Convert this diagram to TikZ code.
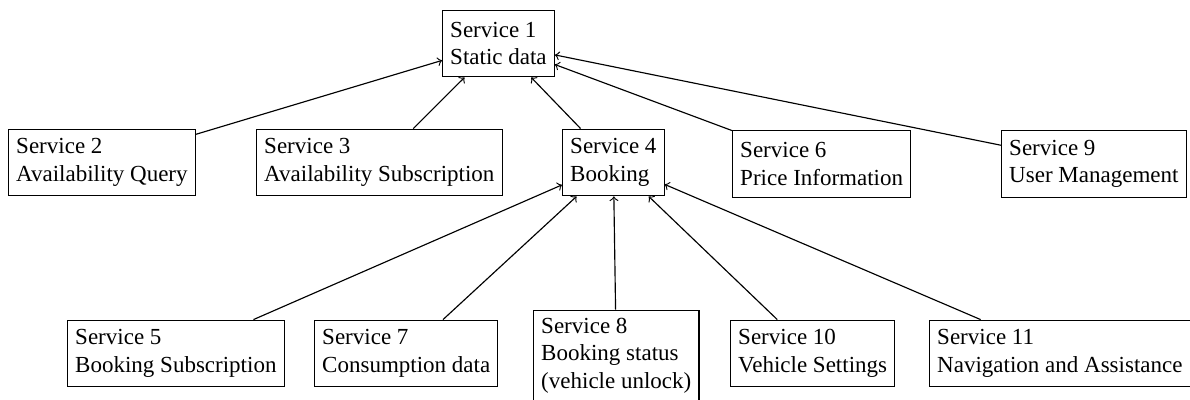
\documentclass[tikz,border=0pt]{standalone}
\usepackage{fontspec}
\setmainfont{Liberation Serif}

\begin{document}
\begin{tikzpicture}[->,auto,line width=0.5pt,x=0.4348pt,y=-0.4348pt]
\tikzstyle{service}=[rectangle,
  draw=black,fill=white,text=black,
  align=left,anchor=west,
  minimum height=29pt
]

\useasboundingbox (0,0) rectangle (1190,400);

\node[service] (S1)  at (442,43.5)  {Service 1\\Static data};

\node[service] (S2)  at (8,162.5)   {Service 2\\Availability Query};
\node[service] (S3)  at (256,162.5) {Service 3\\Availability Subscription};
\node[service] (S4)  at (562,162.5) {Service 4\\Booking};
\node[service] (S6)  at (732,164)   {Service 6\\Price Information};
\node[service] (S9)  at (1001,164)  {Service 9\\User Management};

\node[service] (S5)  at (67,353.5)  {Service 5\\Booking Subscription};
\node[service] (S7)  at (314,353.5) {Service 7\\Consumption data};
\node[service] (S8)  at (533,355.5) {Service 8\\Booking status\\(vehicle unlock)};
\node[service] (S10) at (730,353.5) {Service 10\\Vehicle Settings};
\node[service] (S11) at (929,353.5) {Service 11\\Navigation and Assistance};

\foreach \s in {S2,S3,S4,S6,S9}
  \draw (\s) -- (S1);
\foreach \s in {S5,S7,S8,S10,S11}
  \draw (\s) -- (S4);
\end{tikzpicture}
\end{document}
